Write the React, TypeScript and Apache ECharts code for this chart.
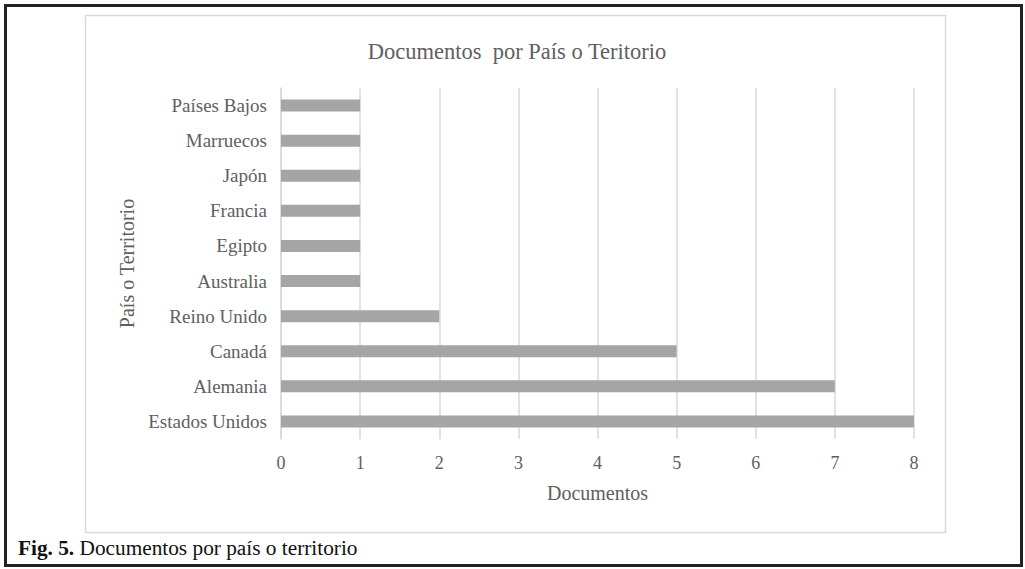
import React, { useEffect, useRef } from "react";
import * as echarts from "echarts";

const categories = [
  "Estados Unidos",
  "Alemania",
  "Canadá",
  "Reino Unido",
  "Australia",
  "Egipto",
  "Francia",
  "Japón",
  "Marruecos",
  "Países Bajos",
];
const documentos = [8, 7, 5, 2, 1, 1, 1, 1, 1, 1];
const xTicks = [0, 1, 2, 3, 4, 5, 6, 7, 8];

const FONT = "'Liberation Serif', 'Times New Roman', serif";
const GRAY_TEXT = "#606060";

export default function App() {
  const ref = useRef<HTMLDivElement>(null);
  useEffect(() => {
    document.body.style.margin = "0";
    const chart = echarts.init(ref.current!, undefined, { renderer: "svg" });
    chart.setOption({
      animation: false,
      backgroundColor: "#ffffff",
      textStyle: { fontFamily: FONT },
      title: {
        text: "Documentos  por País o Teritorio",
        left: 512,
        top: 35,
        textAlign: "center",
        textStyle: { fontFamily: FONT, fontSize: 22.5, fontWeight: "normal", color: GRAY_TEXT },
      },
      grid: { left: 281, right: 111, top: 88, bottom: 130, containLabel: false },
      xAxis: {
        type: "value",
        min: xTicks[0],
        max: xTicks[xTicks.length - 1],
        interval: 1,
        name: "Documentos",
        nameLocation: "middle",
        nameGap: 44,
        nameTextStyle: { fontFamily: FONT, fontSize: 20, color: GRAY_TEXT },
        axisLine: { show: false },
        axisTick: { show: false },
        axisLabel: { fontFamily: FONT, fontSize: 18, color: GRAY_TEXT, margin: 15 },
        splitLine: { show: true, lineStyle: { color: "#d9d9d9", width: 1.5 } },
      },
      yAxis: {
        type: "category",
        data: categories,
        name: "País o Territorio",
        nameLocation: "middle",
        nameGap: 141,
        nameRotate: 90,
        nameTextStyle: { fontFamily: FONT, fontSize: 20, color: GRAY_TEXT },
        axisLine: { show: true, lineStyle: { color: "#d9d9d9", width: 1.5 } },
        axisTick: { show: false },
        axisLabel: { fontFamily: FONT, fontSize: 19, color: GRAY_TEXT, margin: 14 },
        splitLine: { show: false },
      },
      series: [
        {
          type: "bar",
          data: documentos,
          barWidth: 12,
          itemStyle: { color: "#a5a5a5" },
        },
      ],
      graphic: [
        {
          type: "rect",
          shape: { x: 5.5, y: 5.5, width: 1016, height: 560 },
          style: { fill: "none", stroke: "#222222", lineWidth: 3 },
          silent: true,
        },
        {
          type: "rect",
          shape: { x: 85.5, y: 15.5, width: 860, height: 517 },
          style: { fill: "none", stroke: "#d9d9d9", lineWidth: 1.5 },
          silent: true,
        },
        {
          type: "text",
          x: 18,
          y: 537,
          style: {
            text: "{b|Fig. 5.} Documentos por país o territorio",
            fontFamily: FONT,
            fontSize: 21.3,
            fill: "#111111",
            rich: {
              b: { fontFamily: FONT, fontSize: 21.3, fontWeight: "bold", fill: "#111111" },
            },
          },
        },
      ],
    });
    return () => chart.dispose();
  }, []);
  return (
    <div
      ref={ref}
      style={{ position: "absolute", left: 0, top: 0, width: 1025, height: 569 }}
    />
  );
}
